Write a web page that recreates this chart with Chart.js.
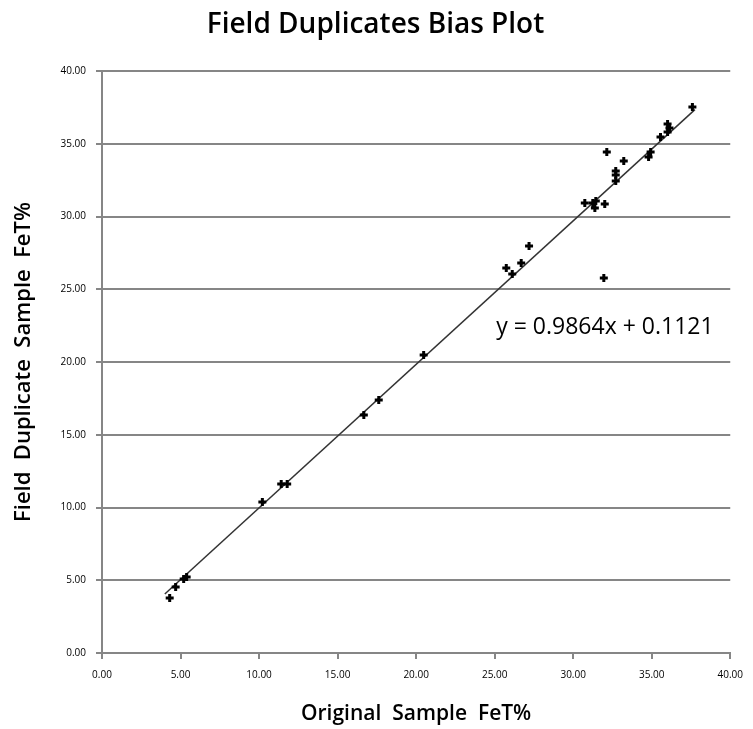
<!DOCTYPE html>
<html>
<head>
<meta charset="utf-8">
<script src="https://cdn.jsdelivr.net/npm/chart.js@4.4.1/dist/chart.umd.min.js"></script>
<style>
  html, body { margin: 0; padding: 0; background: #ffffff; }
  #wrap { width: 753px; height: 729px; }
</style>
</head>
<body>
<div id="wrap"><canvas id="c" width="753" height="729"></canvas></div>
<script>
// ---- Data ----
const chartTitle = "Field Duplicates Bias Plot";
const xAxisTitle = "Original  Sample  FeT%";
const yAxisTitle = "Field  Duplicate  Sample  FeT%";

const originalFeT = [4.31, 4.69, 5.20, 5.39, 10.21, 11.41, 11.79, 16.67, 17.62, 20.48,
  25.74, 26.12, 26.69, 27.19, 30.74, 31.25, 31.38, 31.44, 32.01, 31.95,
  32.14, 32.71, 32.71, 32.71, 33.22, 34.80, 34.93, 35.56, 36.01, 36.13, 36.01, 37.59];
const duplicateFeT = [3.78, 4.54, 5.09, 5.22, 10.38, 11.62, 11.62, 16.36, 17.39, 20.48,
  26.46, 26.05, 26.80, 27.97, 30.93, 30.93, 30.58, 31.06, 30.86, 25.77,
  34.43, 33.13, 32.85, 32.44, 33.81, 34.09, 34.43, 35.46, 36.36, 36.08, 35.81, 37.53];

const trendSlope = 0.9864;
const trendIntercept = 0.1121;
const trendXRange = [4.0, 37.75];
const trendLabel = "y = 0.9864x + 0.1121";
const trendLabelPos = [25.1, 22.4];

const axisMin = 0, axisMax = 40, axisStep = 5;

// ---- Build chart ----
const fam = "'Open Sans', Lato, 'DejaVu Sans', sans-serif";
const points = originalFeT.map((x, i) => ({ x: x, y: duplicateFeT[i] }));
const trendPoints = trendXRange.map(x => ({ x: x, y: trendSlope * x + trendIntercept }));

const trendLabelPlugin = {
  id: 'trendLabel',
  afterDatasetsDraw(chart) {
    const { ctx, scales } = chart;
    const px = scales.x.getPixelForValue(trendLabelPos[0]);
    const py = scales.y.getPixelForValue(trendLabelPos[1]);
    ctx.save();
    ctx.font = "23px " + fam;
    ctx.fillStyle = "#000000";
    ctx.textAlign = "left";
    ctx.textBaseline = "middle";
    ctx.fillText(trendLabel, px, py);
    ctx.restore();
  }
};

new Chart(document.getElementById('c'), {
  type: 'scatter',
  data: {
    datasets: [
      {
        label: 'Duplicates',
        data: points,
        pointStyle: 'cross',
        pointRadius: 4,
        pointHoverRadius: 4,
        borderWidth: 3,
        borderColor: '#000000',
        backgroundColor: '#000000',
        order: 1
      },
      {
        type: 'line',
        label: 'Trend',
        data: trendPoints,
        borderColor: '#333333',
        borderWidth: 1.5,
        pointRadius: 0,
        fill: false,
        order: 2
      }
    ]
  },
  options: {
    responsive: false,
    animation: false,
    devicePixelRatio: 1,
    layout: { padding: { left: 9, right: 11, top: 0, bottom: 0 } },
    plugins: {
      legend: { display: false },
      tooltip: { enabled: false },
      title: {
        display: true,
        text: chartTitle,
        color: '#000000',
        font: { family: fam, size: 28, weight: '600', lineHeight: 1.2 },
        padding: { top: 8, bottom: 29.4 }
      }
    },
    scales: {
      x: {
        type: 'linear',
        min: axisMin, max: axisMax,
        afterFit(scale) { scale.height = 76; },
        border: { display: true, color: '#868686', width: 2 },
        grid: { drawOnChartArea: false, drawTicks: true, tickLength: 6, color: '#868686', lineWidth: 2 },
        ticks: {
          stepSize: axisStep,
          padding: 10,
          color: '#000000',
          font: { family: fam, size: 10 },
          maxRotation: 0,
          callback: v => Number(v).toFixed(2)
        },
        title: {
          display: true,
          text: xAxisTitle,
          color: '#000000',
          font: { family: fam, size: 21, weight: '600', lineHeight: 1.2 },
          padding: { top: 0, bottom: 2 }
        }
      },
      y: {
        type: 'linear',
        min: axisMin, max: axisMax,
        afterFit(scale) { scale.width = 93; },
        border: { display: true, color: '#868686', width: 2 },
        grid: { drawOnChartArea: true, drawTicks: true, tickLength: 6, color: '#868686', lineWidth: 2 },
        ticks: {
          stepSize: axisStep,
          padding: 10,
          color: '#000000',
          font: { family: fam, size: 10 },
          callback: v => Number(v).toFixed(2)
        },
        title: {
          display: true,
          text: yAxisTitle,
          color: '#000000',
          font: { family: fam, size: 22, weight: '600', lineHeight: 1.2 },
          padding: { top: 2, bottom: 0 }
        }
      }
    }
  },
  plugins: [trendLabelPlugin]
});
</script>
</body>
</html>
